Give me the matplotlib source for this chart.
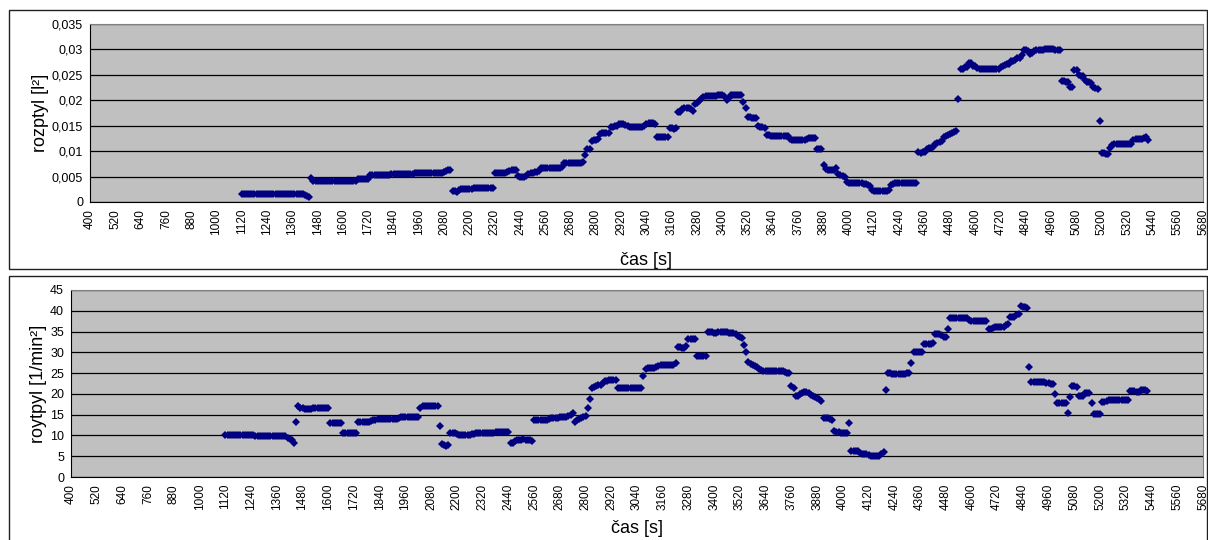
import numpy as np
import matplotlib
matplotlib.use("Agg")
import matplotlib.pyplot as plt
from matplotlib.patches import Rectangle
from matplotlib.ticker import FuncFormatter

plt.rcParams['font.family'] = ['Liberation Sans', 'DejaVu Sans']

# casova os: meranie kazdych 10 s od 1120 s do 5420 s
t_start = 1120
t_step = 10

# rozptyl [l^2], jeden riadok = 200 s
rozptyl = [
    0.0015, 0.0015, 0.0015, 0.0015, 0.0015, 0.0015, 0.0015, 0.0015, 0.0015, 0.0015,
    0.0015, 0.0015, 0.0015, 0.0015, 0.0015, 0.0015, 0.0015, 0.0015, 0.0015, 0.0015,
    0.0015, 0.0015, 0.0015, 0.0015, 0.0015, 0.0015, 0.0015, 0.0015, 0.0015, 0.0015,
    0.0014, 0.0011, 0.0010, 0.0048, 0.0042, 0.0042, 0.0042, 0.0042, 0.0042, 0.0042,
    0.0042, 0.0042, 0.0042, 0.0042, 0.0042, 0.0042, 0.0042, 0.0042, 0.0042, 0.0042,
    0.0041, 0.0041, 0.0041, 0.0041, 0.0042, 0.0045, 0.0045, 0.0045, 0.0045, 0.0045,
    0.0045, 0.0054, 0.0054, 0.0054, 0.0054, 0.0054, 0.0054, 0.0054, 0.0054, 0.0054,
    0.0054, 0.0055, 0.0056, 0.0056, 0.0056, 0.0056, 0.0056, 0.0056, 0.0056, 0.0056,
    0.0056, 0.0056, 0.0057, 0.0057, 0.0058, 0.0058, 0.0058, 0.0058, 0.0058, 0.0058,
    0.0058, 0.0058, 0.0058, 0.0058, 0.0058, 0.0058, 0.0059, 0.0060, 0.0062, 0.0062,
    0.0022, 0.0021, 0.0020, 0.0023, 0.0025, 0.0026, 0.0026, 0.0026, 0.0026, 0.0026,
    0.0027, 0.0027, 0.0027, 0.0027, 0.0027, 0.0027, 0.0028, 0.0028, 0.0028, 0.0028,
    0.0058, 0.0058, 0.0058, 0.0058, 0.0058, 0.0058, 0.0059, 0.0060, 0.0062, 0.0062,
    0.0062, 0.0051, 0.0050, 0.0050, 0.0050, 0.0051, 0.0056, 0.0058, 0.0058, 0.0059,
    0.0059, 0.0060, 0.0067, 0.0067, 0.0067, 0.0067, 0.0067, 0.0067, 0.0067, 0.0067,
    0.0067, 0.0067, 0.0068, 0.0077, 0.0077, 0.0077, 0.0077, 0.0077, 0.0077, 0.0077,
    0.0077, 0.0077, 0.0078, 0.0092, 0.0104, 0.0104, 0.0120, 0.0121, 0.0122, 0.0123,
    0.0134, 0.0135, 0.0135, 0.0136, 0.0136, 0.0147, 0.0148, 0.0149, 0.0150, 0.0153,
    0.0153, 0.0153, 0.0152, 0.0149, 0.0148, 0.0148, 0.0148, 0.0148, 0.0148, 0.0148,
    0.0148, 0.0150, 0.0154, 0.0155, 0.0155, 0.0155, 0.0154, 0.0127, 0.0127, 0.0127,
    0.0127, 0.0127, 0.0127, 0.0145, 0.0145, 0.0144, 0.0145, 0.0176, 0.0177, 0.0183,
    0.0184, 0.0184, 0.0184, 0.0183, 0.0178, 0.0192, 0.0195, 0.0198, 0.0203, 0.0206,
    0.0208, 0.0209, 0.0209, 0.0209, 0.0209, 0.0209, 0.0210, 0.0210, 0.0210, 0.0209,
    0.0200, 0.0205, 0.0210, 0.0211, 0.0211, 0.0211, 0.0211, 0.0210, 0.0197, 0.0184,
    0.0168, 0.0167, 0.0166, 0.0166, 0.0165, 0.0150, 0.0148, 0.0147, 0.0145, 0.0132,
    0.0131, 0.0130, 0.0130, 0.0130, 0.0130, 0.0130, 0.0130, 0.0130, 0.0130, 0.0130,
    0.0123, 0.0122, 0.0122, 0.0121, 0.0121, 0.0121, 0.0122, 0.0122, 0.0123, 0.0125,
    0.0125, 0.0126, 0.0126, 0.0104, 0.0104, 0.0104, 0.0073, 0.0064, 0.0063, 0.0062,
    0.0062, 0.0063, 0.0067, 0.0055, 0.0053, 0.0052, 0.0049, 0.0040, 0.0038, 0.0038,
    0.0038, 0.0038, 0.0038, 0.0038, 0.0037, 0.0036, 0.0035, 0.0034, 0.0032, 0.0024,
    0.0022, 0.0022, 0.0022, 0.0022, 0.0022, 0.0022, 0.0022, 0.0024, 0.0033, 0.0036,
    0.0037, 0.0037, 0.0037, 0.0037, 0.0037, 0.0037, 0.0037, 0.0037, 0.0037, 0.0037,
    0.0037, 0.0098, 0.0097, 0.0098, 0.0098, 0.0104, 0.0106, 0.0107, 0.0108, 0.0115,
    0.0116, 0.0118, 0.0120, 0.0127, 0.0129, 0.0132, 0.0133, 0.0135, 0.0137, 0.0139,
    0.0202, 0.0261, 0.0262, 0.0266, 0.0266, 0.0273, 0.0274, 0.0268, 0.0267, 0.0264,
    0.0262, 0.0261, 0.0261, 0.0261, 0.0261, 0.0261, 0.0261, 0.0261, 0.0261, 0.0261,
    0.0265, 0.0267, 0.0270, 0.0271, 0.0272, 0.0277, 0.0277, 0.0279, 0.0283, 0.0284,
    0.0290, 0.0299, 0.0299, 0.0296, 0.0291, 0.0292, 0.0296, 0.0298, 0.0298, 0.0299,
    0.0299, 0.0300, 0.0300, 0.0300, 0.0300, 0.0300, 0.0299, 0.0299, 0.0298, 0.0238,
    0.0237, 0.0236, 0.0235, 0.0227, 0.0226, 0.0260, 0.0260, 0.0250, 0.0248, 0.0247,
    0.0240, 0.0236, 0.0235, 0.0234, 0.0227, 0.0224, 0.0222, 0.0160, 0.0097, 0.0096,
    0.0094, 0.0094, 0.0106, 0.0113, 0.0114, 0.0114, 0.0114, 0.0114, 0.0114, 0.0114,
    0.0114, 0.0114, 0.0114, 0.0122, 0.0123, 0.0123, 0.0123, 0.0124, 0.0126, 0.0128,
    0.0122,
]

# roytpyl [1/min^2], jeden riadok = 200 s
roytpyl = [
    10.2, 10.2, 10.2, 10.2, 10.2, 10.2, 10.2, 10.2, 10.2, 10.2,
    10.2, 10.2, 10.2, 10.2, 9.8, 9.8, 9.8, 9.8, 9.8, 9.8,
    9.8, 9.8, 9.8, 9.8, 9.8, 9.8, 9.8, 9.8, 9.8, 9.5,
    9.2, 8.8, 8.3, 13.3, 17.1, 16.6, 16.5, 16.3, 16.3, 16.3,
    16.3, 16.6, 16.7, 16.7, 16.7, 16.7, 16.7, 16.7, 16.5, 13.1,
    13.1, 13.1, 13.0, 13.0, 13.0, 10.7, 10.7, 10.7, 10.7, 10.7,
    10.7, 10.7, 13.3, 13.3, 13.3, 13.3, 13.3, 13.3, 13.4, 13.7,
    13.8, 14.0, 14.0, 14.0, 14.0, 14.0, 14.0, 14.0, 14.0, 14.0,
    14.0, 14.3, 14.4, 14.4, 14.4, 14.4, 14.4, 14.4, 14.4, 14.4,
    14.4, 16.7, 17.0, 17.1, 17.1, 17.1, 17.1, 17.1, 17.1, 17.1,
    12.3, 8.0, 7.8, 7.5, 7.6, 10.5, 10.5, 10.5, 10.4, 10.2,
    10.1, 10.1, 10.1, 10.2, 10.2, 10.3, 10.4, 10.6, 10.6, 10.7,
    10.7, 10.7, 10.7, 10.7, 10.7, 10.7, 10.8, 10.8, 10.8, 10.8,
    10.8, 10.8, 10.8, 8.3, 8.3, 8.7, 9.0, 9.0, 9.0, 9.1,
    9.0, 9.0, 9.0, 8.7, 13.7, 13.7, 13.7, 13.7, 13.7, 13.7,
    13.7, 13.9, 14.1, 14.1, 14.1, 14.2, 14.5, 14.5, 14.5, 14.5,
    14.6, 14.9, 15.5, 13.3, 13.6, 13.9, 14.2, 14.4, 14.6, 16.7,
    18.7, 21.5, 21.6, 22.0, 22.1, 22.2, 22.6, 23.0, 23.2, 23.3,
    23.3, 23.3, 23.3, 21.5, 21.5, 21.5, 21.5, 21.5, 21.5, 21.5,
    21.5, 21.5, 21.5, 21.5, 21.5, 24.3, 26.0, 26.3, 26.3, 26.3,
    26.3, 26.4, 26.6, 27.0, 27.0, 27.0, 27.0, 27.0, 27.0, 27.0,
    27.4, 31.2, 31.2, 31.0, 31.0, 31.5, 33.2, 33.2, 33.2, 33.2,
    29.1, 29.1, 29.1, 29.1, 29.1, 34.8, 34.8, 34.8, 34.7, 34.7,
    34.8, 34.8, 34.9, 34.8, 34.8, 34.7, 34.7, 34.6, 34.4, 34.0,
    33.8, 33.4, 31.7, 30.2, 27.6, 27.3, 27.0, 26.6, 26.4, 26.0,
    25.7, 25.5, 25.5, 25.5, 25.5, 25.5, 25.5, 25.5, 25.5, 25.5,
    25.5, 25.3, 25.0, 25.0, 22.0, 21.5, 19.6, 19.6, 20.0, 20.3,
    20.5, 20.4, 20.2, 19.8, 19.5, 19.3, 19.0, 18.7, 18.4, 14.3,
    14.3, 14.3, 13.9, 13.6, 11.0, 10.9, 10.8, 10.7, 10.6, 10.5,
    10.5, 12.9, 6.3, 6.3, 6.3, 6.2, 5.8, 5.6, 5.6, 5.5,
    5.3, 5.0, 5.0, 5.0, 5.0, 5.1, 5.5, 6.0, 20.9, 25.1,
    25.0, 24.7, 24.7, 24.7, 24.7, 24.7, 24.8, 24.9, 25.0, 25.0,
    27.5, 30.0, 30.0, 30.0, 30.0, 30.0, 32.0, 32.0, 32.0, 32.1,
    32.3, 34.4, 34.4, 34.4, 34.2, 33.8, 33.6, 35.7, 38.2, 38.2,
    38.2, 38.2, 38.2, 38.2, 38.2, 38.2, 38.2, 37.9, 37.6, 37.6,
    37.6, 37.6, 37.6, 37.6, 37.6, 37.6, 35.6, 35.6, 35.8, 36.0,
    36.2, 36.2, 36.2, 36.2, 36.5, 36.8, 38.6, 38.6, 38.6, 39.0,
    39.2, 41.2, 41.0, 40.8, 40.6, 26.4, 22.8, 22.8, 22.8, 22.8,
    22.8, 22.8, 22.8, 22.7, 22.6, 22.5, 22.5, 20.0, 17.7, 17.7,
    17.7, 17.7, 17.7, 15.5, 19.3, 22.0, 22.0, 21.7, 19.6, 19.6,
    19.6, 20.1, 20.1, 20.1, 17.9, 15.1, 15.1, 15.1, 15.1, 18.1,
    18.1, 18.2, 18.5, 18.5, 18.5, 18.5, 18.5, 18.5, 18.5, 18.5,
    18.5, 18.5, 20.7, 20.7, 20.7, 20.5, 20.5, 20.9, 20.9, 21.0,
    20.8,
]

cas = t_start + t_step * np.arange(len(rozptyl))
x_ticks = list(range(400, 5681, 120))

W, H = 1208, 540
fig = plt.figure(figsize=(W / 100, H / 100), dpi=100)


def px_axes(left, top, right, bottom):
    # pozicia osi v pixeloch -> suradnice obrazku
    return fig.add_axes([left / W, 1 - bottom / H, (right - left) / W, (bottom - top) / H])


def ramcek(left, top, right, bottom):
    fig.patches.append(Rectangle((left / W, 1 - bottom / H), (right - left) / W, (bottom - top) / H,
                                 transform=fig.transFigure, fill=False, edgecolor='#202020',
                                 linewidth=1.0, zorder=0))


def priprav(ax, yticks, ylabel, fmt, xpad):
    ax.set_facecolor('#C0C0C0')
    ax.set_xlim(400, 5680)
    ax.set_ylim(yticks[0], yticks[-1])
    ax.set_xticks(x_ticks)
    ax.set_xticklabels([str(v) for v in x_ticks], rotation=90, fontsize=8.5)
    ax.set_yticks(yticks)
    ax.yaxis.set_major_formatter(FuncFormatter(fmt))
    ax.tick_params(axis='both', length=0, pad=5)
    ax.tick_params(axis='y', labelsize=9)
    ax.grid(axis='y', color='black', linewidth=0.9)
    ax.set_axisbelow(True)
    for s in ['top', 'right']:
        ax.spines[s].set_color('#808080')
    for s in ['left', 'bottom']:
        ax.spines[s].set_color('black')
    ax.set_xlabel('čas [s]', fontsize=13, labelpad=xpad)
    ax.set_ylabel(ylabel, fontsize=13, labelpad=2)


ramcek(9, 10, 1207, 269)
ramcek(9, 276, 1207, 545)

# horny graf - rozptyl
ax1 = px_axes(90, 24, 1203, 202)
priprav(ax1, [0, 0.005, 0.01, 0.015, 0.02, 0.025, 0.03, 0.035], 'rozptyl [l²]',
        lambda v, p: '0' if v == 0 else ('%g' % round(v, 4)).replace('.', ','), 12)
ax1.plot(cas, rozptyl, linestyle='none', marker='D', markersize=4.0,
         color='#000080', markeredgewidth=0)

# dolny graf - roytpyl
ax2 = px_axes(71, 290, 1203, 477)
priprav(ax2, list(range(0, 46, 5)), 'roytpyl [1/min²]', lambda v, p: '%d' % v, 7)
ax2.plot(cas, roytpyl, linestyle='none', marker='D', markersize=4.0,
         color='#000080', markeredgewidth=0)

fig.savefig('out.png', dpi=100)
